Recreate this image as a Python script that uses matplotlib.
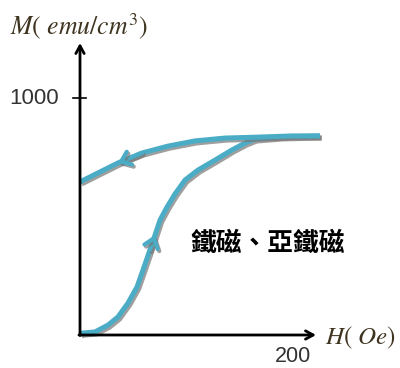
import matplotlib
matplotlib.use("Agg")
import matplotlib.pyplot as plt
import matplotlib.patheffects as pe

# Initial magnetisation curve (H in Oe, M in emu/cm^3)
init_H = [0, 1.9, 14.2, 26.4, 35.8, 45.3, 53.8, 59.4, 66.0, 70.8, 75.5, 82.1,
          89.6, 99.1, 111.3, 127.4, 143.4, 155.7, 165.1, 190.0, 226.4]
init_M = [3, 8, 13, 42, 76, 135, 203, 274, 359, 422, 485, 540,
          595, 654, 696, 738, 781, 810, 827, 836, 840]

# Return branch from saturation back to H = 0 (remanence)
ret_H = [226.4, 200.0, 167.9, 136.8, 108.5, 83.0, 58.5, 35.8, 17.0, 0]
ret_M = [840, 840, 835, 831, 819, 797, 768, 726, 684, 646]

y_tick = 1000
x_tick = 200
y_tick_label = "1000"
x_tick_label = "200"
y_label = r"$M(\ emu/cm^3)$"
x_label = r"$H(\ Oe)$"
note = "鐵磁、亞鐵磁"

plt.rcParams["mathtext.fontset"] = "stix"

fig = plt.figure(figsize=(4.0, 3.68), dpi=100)
ax = fig.add_axes([0, 0, 1, 1])
k = 1.06     # px per Oe
s = 0.237    # px per emu/cm^3
x0, y0 = 80, 335
ax.set_xlim(-x0 / k, (400 - x0) / k)
ax.set_ylim(-(368 - y0) / s, y0 / s)
ax.axis("off")

curve_color = "#4bacc6"
shadow = [pe.SimpleLineShadow(offset=(1.2, -1.5), shadow_color="#777777", alpha=0.7),
          pe.Normal()]

# coordinate axes with arrow heads
y_top = (y0 - 43) / s
x_end = (316 - x0) / k
ax.annotate("", xy=(0, y_top), xytext=(0, -2),
            arrowprops=dict(arrowstyle="->,head_length=0.55,head_width=0.3",
                            lw=2.0, color="black", shrinkA=0, shrinkB=0),
            zorder=3)
ax.annotate("", xy=(x_end, 0), xytext=(-1, 0),
            arrowprops=dict(arrowstyle="->,head_length=0.55,head_width=0.3",
                            lw=2.0, color="black", shrinkA=0, shrinkB=0),
            zorder=3)
ax.plot([-7 / k, 6 / k], [y_tick, y_tick], color="black", lw=1.2, zorder=3)

# magnetisation curves
for xs, ys in ((init_H, init_M), (ret_H, ret_M)):
    ax.plot(xs, ys, color=curve_color, lw=3.6, solid_capstyle="butt",
            solid_joinstyle="round", path_effects=shadow, zorder=2)

# direction chevrons on the curves
for xs, ys, i in ((ret_H, ret_M, 6), (init_H, init_M, 8)):
    ax.annotate("", xy=(xs[i + 1], ys[i + 1]), xytext=(xs[i], ys[i]),
                arrowprops=dict(arrowstyle="->,head_length=0.65,head_width=0.5",
                                lw=3.0, color=curve_color, shrinkA=0, shrinkB=0,
                                path_effects=shadow),
                zorder=2)

label_color = "#3f3420"
ax.text(-43, y_tick, y_tick_label, fontsize=16, family="Liberation Sans",
        color="#333333", ha="center", va="center")
ax.text(x_tick + 1, -(357 - y0) / s, x_tick_label, fontsize=15.5,
        family="Liberation Sans", color="#333333", ha="center", va="center")
ax.text(-70 / k, (y0 - 26) / s, y_label, fontsize=18.5, color=label_color,
        ha="left", va="center")
ax.text((325 - x0) / k, (y0 - 338) / s, x_label, fontsize=18, color=label_color,
        ha="left", va="center")
ax.text((190 - x0) / k, (y0 - 243) / s, note, fontsize=18.5,
        family=["Noto Sans CJK TC", "DejaVu Sans"], fontweight="bold",
        color="black", ha="left", va="center")

fig.savefig("out.png", dpi=100)
